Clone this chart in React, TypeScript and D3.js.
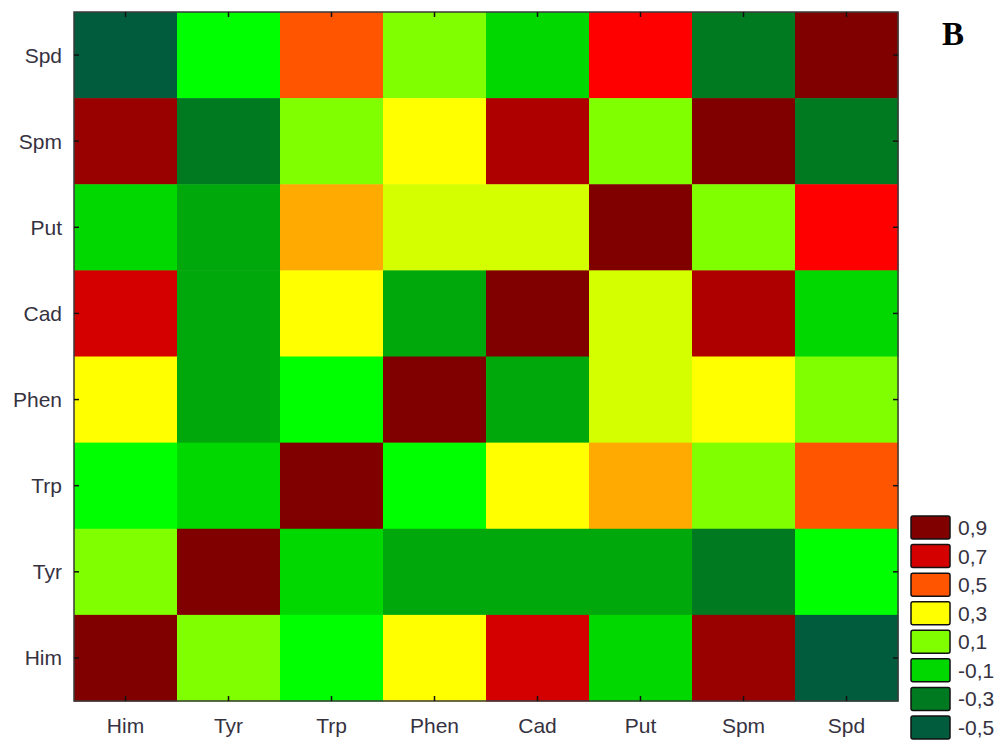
import React from "react";
import * as d3 from "d3";

const variables = ["Him", "Tyr", "Trp", "Phen", "Cad", "Put", "Spm", "Spd"];
// rows displayed top to bottom
const rowOrder = ["Spd", "Spm", "Put", "Cad", "Phen", "Trp", "Tyr", "Him"];

// correlation matrix (row variable vs column variable), order = variables
const corrHim = [1.0, 0.15, 0.05, 0.35, 0.75, -0.05, 0.87, -0.45];
const corrTyr = [0.15, 1.0, -0.05, -0.15, -0.15, -0.15, -0.25, 0.05];
const corrTrp = [0.05, -0.05, 1.0, 0.05, 0.35, 0.45, 0.15, 0.55];
const corrPhen = [0.35, -0.15, 0.05, 1.0, -0.15, 0.25, 0.35, 0.15];
const corrCad = [0.75, -0.15, 0.35, -0.15, 1.0, 0.25, 0.82, -0.05];
const corrPut = [-0.05, -0.15, 0.45, 0.25, 0.25, 1.0, 0.15, 0.65];
const corrSpm = [0.87, -0.25, 0.15, 0.35, 0.82, 0.15, 1.0, -0.25];
const corrSpd = [-0.45, 0.05, 0.55, 0.15, -0.05, 0.65, -0.25, 1.0];

const levelThresholds = [-0.4, -0.3, -0.2, -0.1, 0, 0.1, 0.2, 0.3, 0.4, 0.5, 0.6, 0.7, 0.8, 0.85, 0.9];
const levelColors = [
  "#005C3C", "#006B2E", "#007A20", "#00A80C", "#00D800", "#00FF00", "#80FF00", "#D4FF00",
  "#FFFF00", "#FFAA00", "#FF5500", "#FF0000", "#D40000", "#AF0000", "#990000", "#800000",
];

const legendValues = [0.9, 0.7, 0.5, 0.3, 0.1, -0.1, -0.3, -0.5];
const legendLabels = ["0,9", "0,7", "0,5", "0,3", "0,1", "-0,1", "-0,3", "-0,5"];

const corrByVar: Record<string, number[]> = {
  Him: corrHim, Tyr: corrTyr, Trp: corrTrp, Phen: corrPhen,
  Cad: corrCad, Put: corrPut, Spm: corrSpm, Spd: corrSpd,
};

export default function App() {
  const W = 1003, H = 740;
  const left = 74, right = 898, top = 12, bottom = 701;
  const x = d3.scaleBand<string>().domain(variables).range([left, right]);
  const y = d3.scaleBand<string>().domain(rowOrder).range([top, bottom]);
  const color = d3.scaleThreshold<number, string>().domain(levelThresholds).range(levelColors);

  const legendY = d3.scaleLinear().domain([0, legendValues.length - 1]).range([516, 716]);
  const textColor = "#36323f";
  const font = "Arial, 'Liberation Sans', sans-serif";
  const fs = 21;
  const tickLen = 5;

  const cells: JSX.Element[] = [];
  rowOrder.forEach((rv) => {
    variables.forEach((cv, j) => {
      cells.push(
        <rect key={rv + cv} x={x(cv)} y={y(rv)} width={x.bandwidth() + 0.5} height={y.bandwidth() + 0.5}
          fill={color(corrByVar[rv][j])} />
      );
    });
  });

  return (
    <svg width={W} height={H} style={{ position: "absolute", left: 0, top: 0, background: "#fff" }}>
      <rect x={0} y={0} width={W} height={H} fill="#fff" />
      {cells}
      <rect x={left} y={top} width={right - left} height={bottom - top} fill="none" stroke="#3a3a3a" strokeWidth={1.5} />
      {variables.map((v) => {
        const cx = (x(v) as number) + x.bandwidth() / 2;
        return (
          <g key={"xt" + v}>
            <line x1={cx} x2={cx} y1={bottom} y2={bottom - tickLen} stroke="#111" strokeWidth={1.5} />
            <line x1={cx} x2={cx} y1={top} y2={top + tickLen} stroke="#111" strokeWidth={1.5} />
            <text x={cx} y={733} textAnchor="middle" fontFamily={font} fontSize={fs} fill={textColor}>{v}</text>
          </g>
        );
      })}
      {rowOrder.map((v) => {
        const cy = (y(v) as number) + y.bandwidth() / 2;
        return (
          <g key={"yt" + v}>
            <line x1={left} x2={left + tickLen} y1={cy} y2={cy} stroke="#111" strokeWidth={1.5} />
            <line x1={right} x2={right - tickLen} y1={cy} y2={cy} stroke="#111" strokeWidth={1.5} />
            <text x={62} y={cy} dy="0.36em" textAnchor="end" fontFamily={font} fontSize={fs} fill={textColor}>{v}</text>
          </g>
        );
      })}
      <text x={953} y={45} textAnchor="middle" fontFamily="'Liberation Serif', 'Times New Roman', serif" fontWeight="bold" fontSize={33} fill="#000">B</text>
      {legendValues.map((v, i) => {
        const ly = legendY(i);
        return (
          <g key={"lg" + i}>
            <rect x={911} y={ly} width={39} height={23} rx={2} fill={color(v)} stroke="#111" strokeWidth={1.5} />
            <text x={958} y={ly + 11.5} dy="0.36em" fontFamily={font} fontSize={fs} fill={textColor}>{legendLabels[i]}</text>
          </g>
        );
      })}
    </svg>
  );
}
